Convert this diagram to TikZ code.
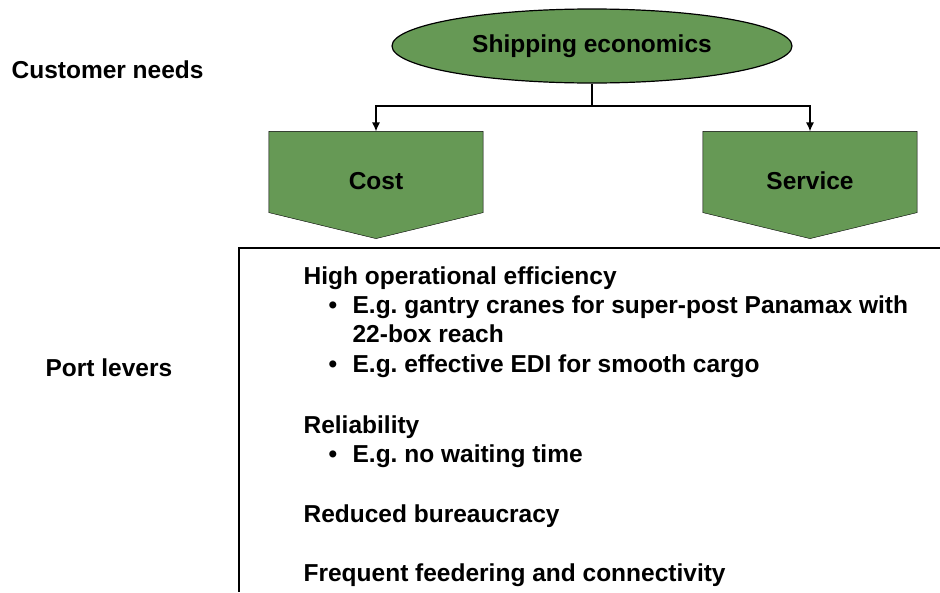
\documentclass[tikz,border=0pt]{standalone}
\usepackage{fontspec}
\setmainfont{Liberation Sans}
\usepackage{xcolor}
\usetikzlibrary{shapes.geometric, arrows.meta, backgrounds}
\definecolor{leaf}{RGB}{102,153,85}
\tikzstyle{arrow} = [-{Latex[length=9pt,width=8pt]}]
\frenchspacing

\begin{document}
\begin{tikzpicture}
        [
            x=1pt,y=-1pt,line width=1.2pt,
            every node/.style={font=\bfseries\fontsize{24.5}{29.5}\selectfont},
            econ/.style={ellipse,draw,fill=leaf,minimum width=400pt,minimum height=74pt,inner sep=0pt},
            chev/.style={minimum width=213pt,minimum height=106pt,inner sep=0pt,text depth=8pt},
            line/.style={anchor=base west,inner sep=0pt},
        ]
    \useasboundingbox (0,0) rectangle (940,592);

    \node[econ] (ship) at (592,46){Shipping economics};
    \node[chev] (cost) at (376,185){Cost};
    \node[chev] (service) at (810,185){Service};

    \begin{scope}[on background layer]
    \foreach \n in {cost,service}
        \draw[fill=leaf] (\n.north west) -- (\n.north east) -- ([yshift=26pt]\n.south east)
            -- (\n.south) -- ([yshift=26pt]\n.south west) -- cycle;
    \end{scope}

    \coordinate (split) at (592,106);
    \draw (ship.south) -- (split);
    \draw[arrow] (split) -| (cost.north);
    \draw[arrow] (split) -| (service.north);

    \node[line] (needs) at (11,78){Customer needs};
    \node[line] (levers) at (45,376){Port levers};

    \draw (940,248) -- (239,248) -- (239,592);

    \node[line] (eff) at (303,284){High operational efficiency};
    \node[line] (b1) at (352,313){E.g. gantry cranes for super-post Panamax with};
    \node[line] (b1b) at (352,342){22-box reach};
    \node[line] (b2) at (352,372){E.g. effective EDI for smooth cargo};
    \node[line] (rel) at (303,433){Reliability};
    \node[line] (b3) at (352,462){E.g. no waiting time};
    \node[line] (bur) at (303,522){Reduced bureaucracy};
    \node[line] (feed) at (303,581){Frequent feedering and connectivity};

    \foreach \b in {b1,b2,b3}
        \node[line] (\b dot) at ([xshift=-24pt]\b.base west){\textbullet};
    \end{tikzpicture}
\end{document}
